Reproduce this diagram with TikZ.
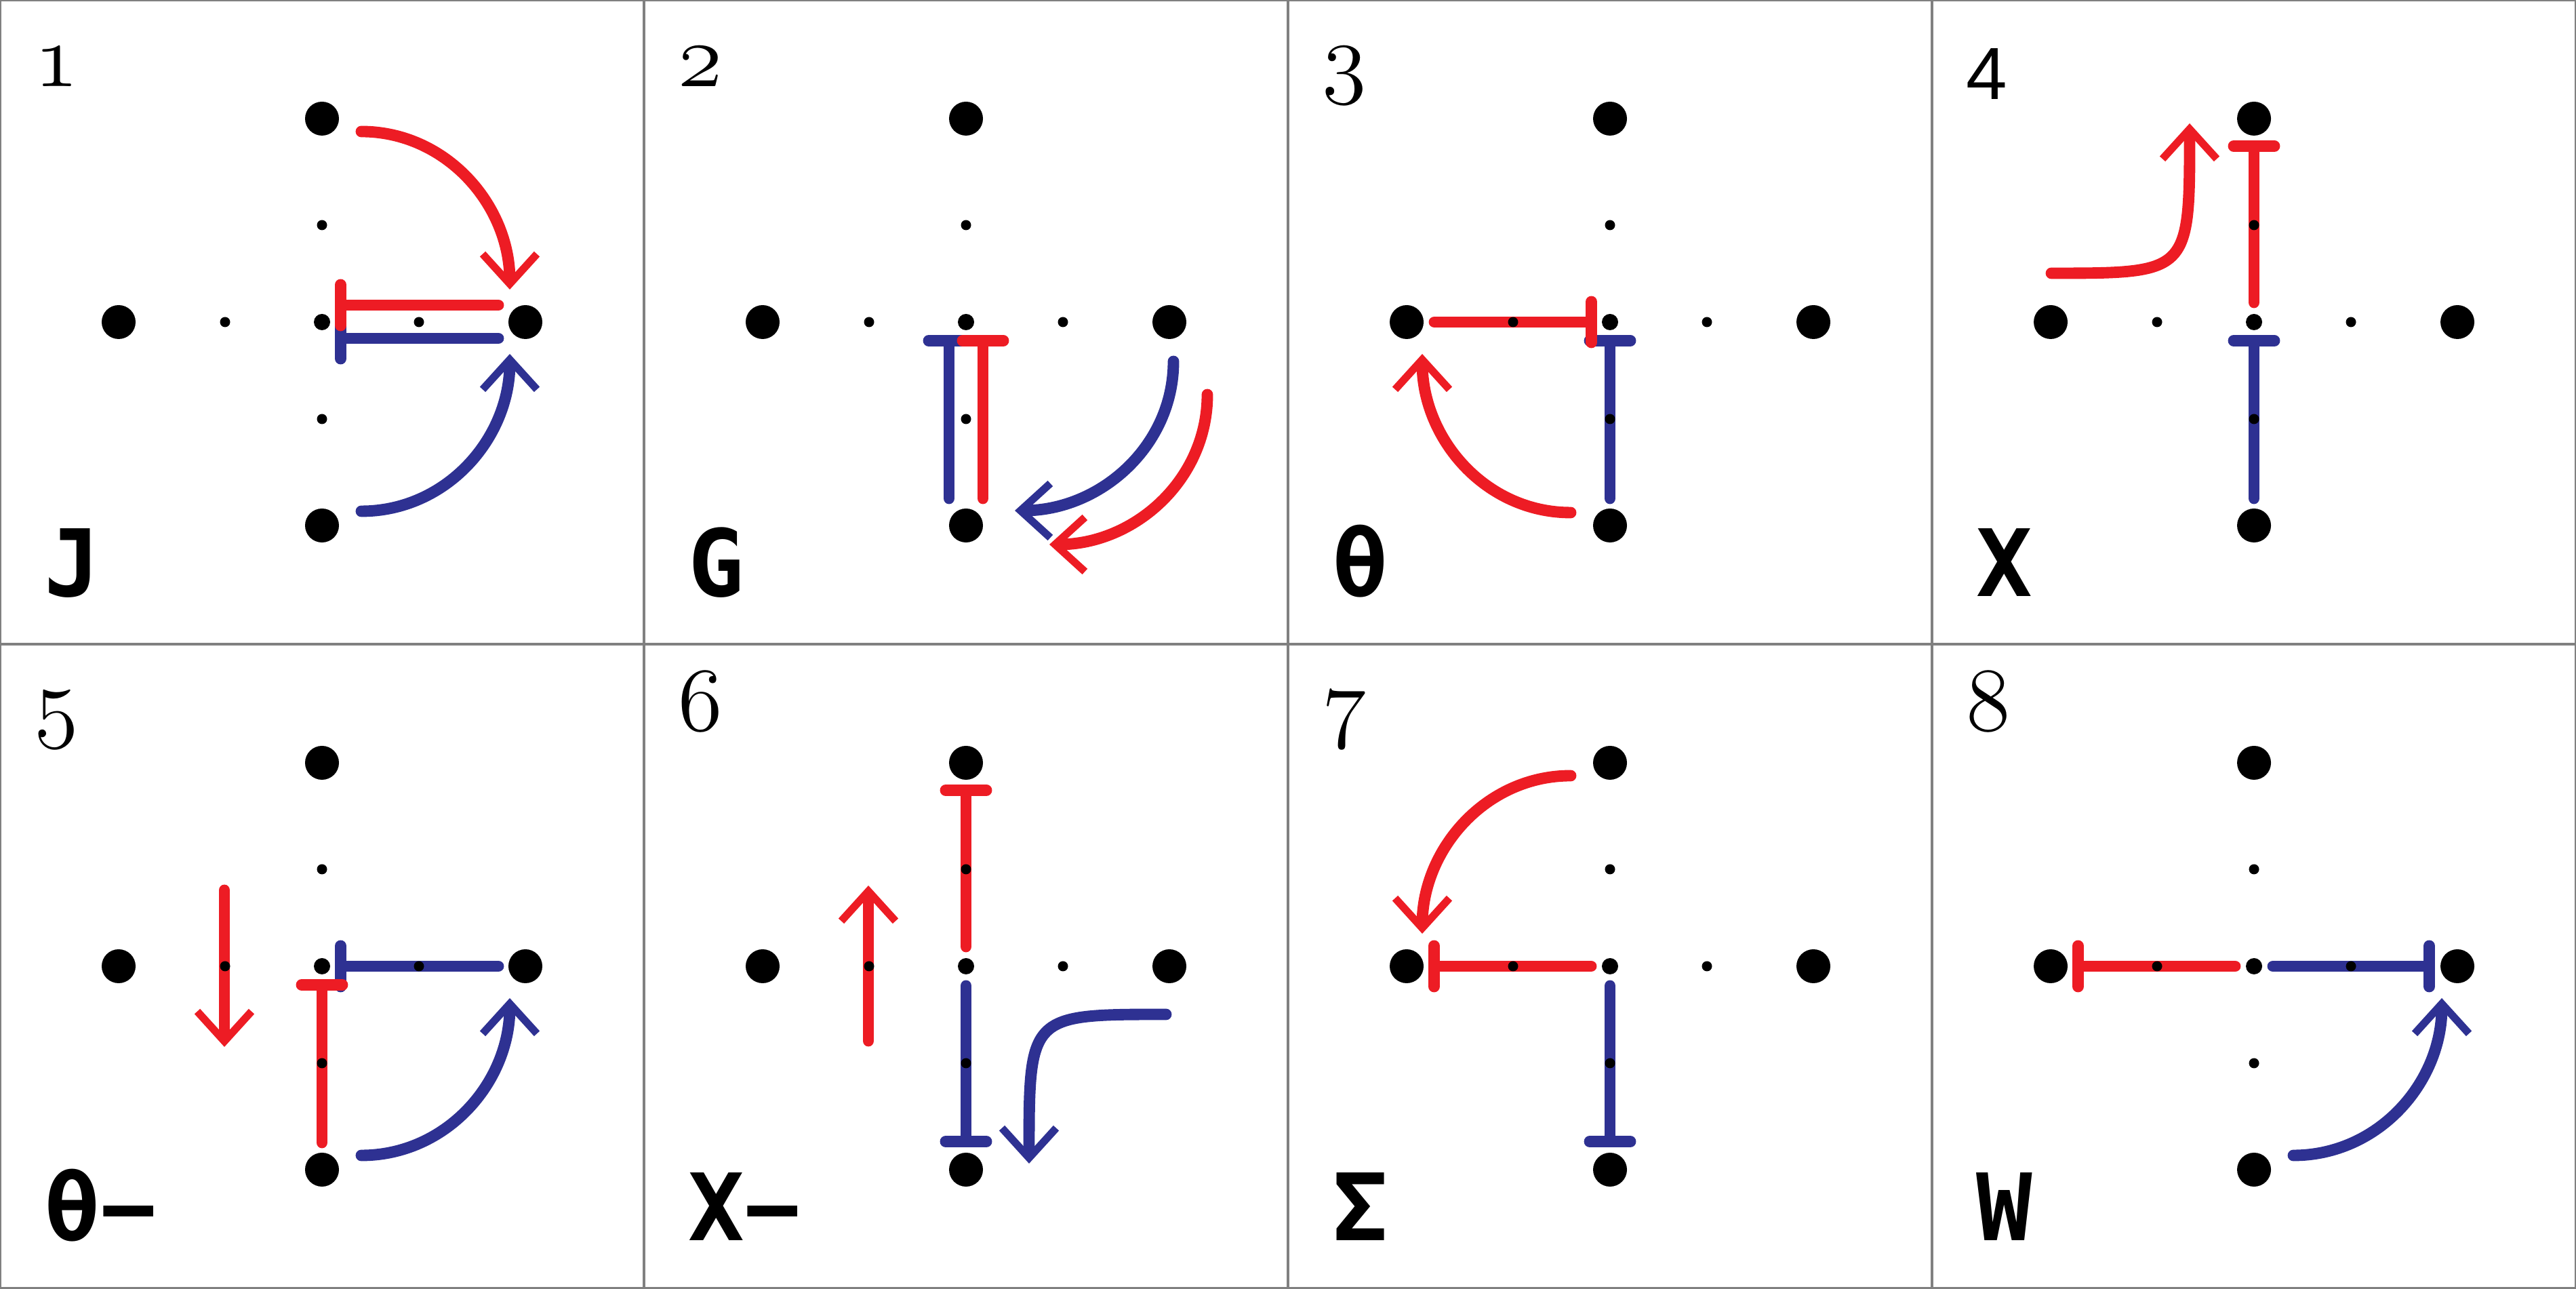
\documentclass[tikz,border=0pt]{standalone}
\usepackage{fix-cm}
\usepackage{fontspec}
\usetikzlibrary{arrows.meta}
\newfontfamily\labelfont{DejaVu Sans Mono}
\newfontfamily\sansdigit{Liberation Sans}
\definecolor{ared}{HTML}{ED1C24}
\definecolor{ablue}{HTML}{2E3192}
\definecolor{frame}{HTML}{808080}
\newcommand\lattice{%
	\foreach \x/\y in {3/0,-3/0,0/3,0/-3} \fill (\x,\y) circle [radius=0.25];
	\foreach \x/\y in {1.43/0,-1.43/0,0/1.43,0/-1.43} \fill (\x,\y) circle [radius=0.075];
	\fill (0,0) circle [radius=0.12];}

\begin{document}
\begin{tikzpicture}[
	chev/.tip={Straight Barb[length=4.4mm,width=8mm,line width=3.2pt]},
	stop/.tip={Bar[width=6mm,line width=4.8pt,round]},
	stroke/.style={line width=4.8pt, line cap=round},
	redl/.style={stroke, draw=ared},
	bluel/.style={stroke, draw=ablue},
	numtext/.style={inner sep=0, anchor=base west, font=\fontsize{38}{38}\usefont{OML}{cmm}{m}{it}},
	labtext/.style={inner sep=0, anchor=base west, font=\fontsize{39}{39}\selectfont\labelfont\bfseries}]
	\useasboundingbox (0,0) rectangle (38,19);
	\draw [frame, line width=1pt] (0,0) rectangle (38,19);
	\foreach \x in {9.5,19,28.5} \draw [frame, line width=1pt] (\x,0) -- (\x,19);
	\draw [frame, line width=1pt] (0,9.5) -- (38,9.5);

	\foreach \n/\x/\y in {1/0/19, 2/9.5/19, 3/19/19, 5/0/9.5, 6/9.5/9.5, 7/19/9.5, 8/28.5/9.5}
		\node [numtext] (num\n) at (\x+0.5,\y-1.28) {\n};
	\node [numtext, font=\fontsize{31}{31}\selectfont\sansdigit] (num4) at (28.5+0.5,19-1.47) {4};
	\foreach \t/\x/\y [count=\i] in {J/0/9.5, G/9.5/9.5, θ/19/9.5, X/28.5/9.5, θ−/0/0, X−/9.5/0, Σ/19/0, W/28.5/0}
		\node [labtext] (lab\i) at (\x+0.65,\y+0.70) {\t};

	% 1
	\begin{scope}[shift={(4.75,14.25)}]
		\draw [redl, -chev] (0.58,2.81) to [out=0, in=90] (2.77,0.48);
		\draw [bluel, -chev] (0.58,-2.79) to [out=0, in=-90] (2.77,-0.47);
		\draw [bluel, stop-] (0.19,-0.24) -- (2.60,-0.24);
		\draw [redl, stop-] (0.19,0.25) -- (2.60,0.25);
		\lattice
	\end{scope}
	% 2
	\begin{scope}[shift={(14.25,14.25)}]
		\draw [bluel, stop-] (-0.25,-0.19) -- (-0.25,-2.60);
		\draw [redl, stop-] (0.25,-0.19) -- (0.25,-2.60);
		\draw [bluel, -chev] (3.06,-0.58) to [out=-90, in=0] (0.72,-2.78);
		\draw [redl, -chev] (3.56,-1.07) to [out=-90, in=0] (1.23,-3.28);
		\lattice
	\end{scope}
	% 3
	\begin{scope}[shift={(23.75,14.25)}]
		\draw [bluel, stop-] (0,-0.19) -- (0,-2.60);
		\draw [redl, -stop] (-2.59,0) -- (-0.19,0);
		\draw [redl, -chev] (-0.58,-2.81) to [out=180, in=-90] (-2.77,-0.47);
		\lattice
	\end{scope}
	% 4
	\begin{scope}[shift={(33.25,14.25)}]
		\draw [redl, stop-] (0,2.68) -- (0,0.29);
		\draw [bluel, stop-] (0,-0.19) -- (0,-2.60);
		\draw [redl, -chev] (-2.99,0.72) .. controls (-0.95,0.72) and (-0.95,0.72) .. (-0.95,2.93);
		\lattice
	\end{scope}
	% 5
	\begin{scope}[shift={(4.75,4.75)}]
		\draw [redl, -chev] (-1.44,1.12) -- (-1.44,-1.19);
		\draw [bluel, stop-] (0.19,0) -- (2.60,0);
		\draw [redl, stop-] (0,-0.19) -- (0,-2.60);
		\draw [bluel, -chev] (0.58,-2.79) to [out=0, in=-90] (2.77,-0.47);
		\lattice
	\end{scope}
	% 6
	\begin{scope}[shift={(14.25,4.75)}]
		\draw [redl, -chev] (-1.44,-1.10) -- (-1.44,1.19);
		\draw [redl, stop-] (0,2.68) -- (0,0.29);
		\draw [bluel, -stop] (0,-0.29) -- (0,-2.67);
		\draw [bluel, -chev] (2.95,-0.71) .. controls (0.93,-0.71) and (0.93,-0.71) .. (0.93,-2.91);
		\lattice
	\end{scope}
	% 7
	\begin{scope}[shift={(23.75,4.75)}]
		\draw [redl, -chev] (-0.58,2.81) to [out=180, in=90] (-2.77,0.48);
		\draw [redl, stop-] (-2.68,0) -- (-0.28,0);
		\draw [bluel, -stop] (0,-0.29) -- (0,-2.67);
		\lattice
	\end{scope}
	% 8
	\begin{scope}[shift={(33.25,4.75)}]
		\draw [redl, stop-] (-2.68,0) -- (-0.28,0);
		\draw [bluel, -stop] (0.28,0) -- (2.67,0);
		\draw [bluel, -chev] (0.58,-2.79) to [out=0, in=-90] (2.77,-0.47);
		\lattice
	\end{scope}
\end{tikzpicture}
\end{document}
